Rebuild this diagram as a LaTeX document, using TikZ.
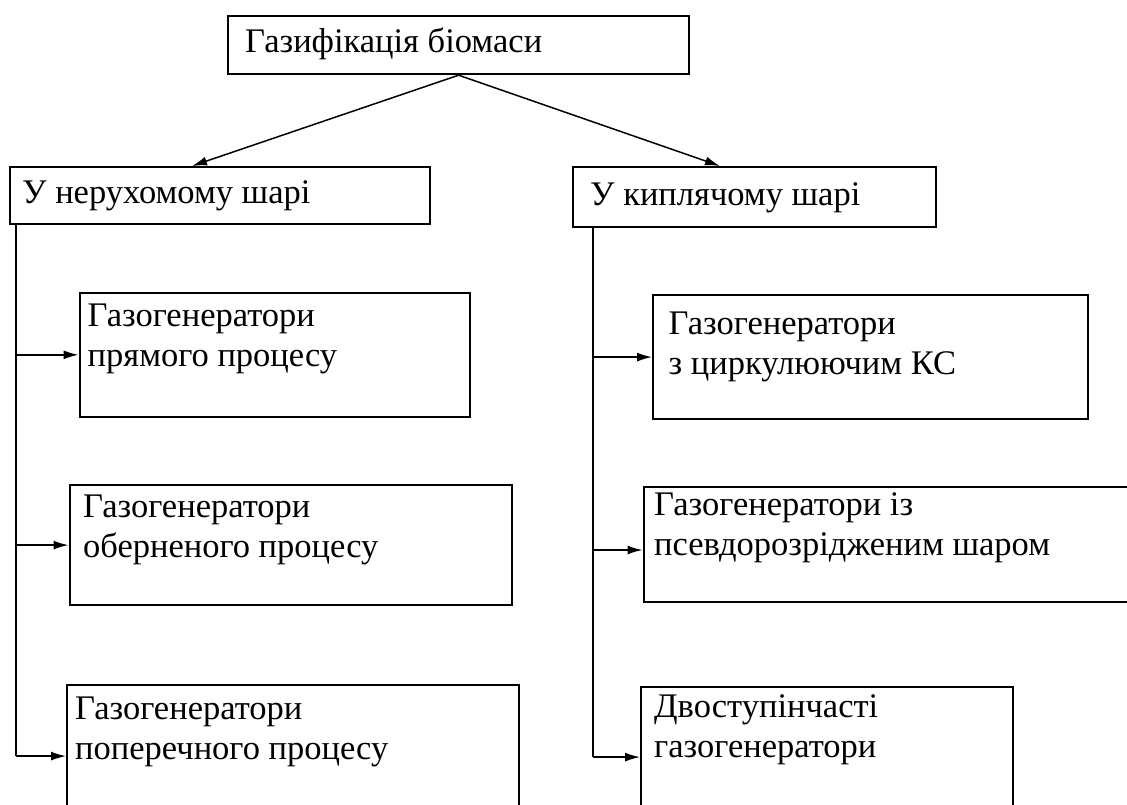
\documentclass[tikz,border=0pt]{standalone}
\usepackage{fontspec}
\setmainfont{Liberation Serif}
\usetikzlibrary{arrows.meta,calc}
\begin{document}
\begin{tikzpicture}[x=1pt,y=-1pt,
  box/.style={draw=black, line width=2.2pt, inner sep=0pt, anchor=north west},
  txt/.style={anchor=base west, inner sep=0pt, align=left, font=\fontsize{34.5}{40}\selectfont},
  conn/.style={draw=black, line width=1.5pt},
  arr/.style={conn, -{Latex[length=15pt,width=9pt]}}]
\useasboundingbox (0,0) rectangle (1127,805);
\clip (0,0) rectangle (1127,805);
% boxes
\node[box, minimum width=461pt, minimum height=58pt] (top) at (227,15) {};
\node[box, minimum width=420pt, minimum height=57pt] (lb) at (9,166) {};
\node[box, minimum width=363pt, minimum height=60pt] (rb) at (572,166) {};
\node[box, minimum width=390.5pt, minimum height=124.5pt] (l1) at (78.5,291.5) {};
\node[box, minimum width=442pt, minimum height=120pt] (l2) at (68.5,484) {};
\node[box, minimum width=452pt, minimum height=142pt] (l3) at (66,684) {};
\node[box, minimum width=435pt, minimum height=124pt] (r1) at (652,294) {};
\node[box, minimum width=500pt, minimum height=115pt] (r2) at (642.5,486) {};
\node[box, minimum width=372pt, minimum height=140pt] (r3) at (640,686) {};
% texts (base = baseline of the last line)
\node[txt] (t0) at (245,53) {Газифікація біомаси};
\node[txt] (tl) at (22,204) {У нерухомому шарі};
\node[txt] (tr) at (590,206) {У киплячому шарі};
\node[txt] (tl1) at (87.5,366) {Газогенератори\\прямого процесу};
\node[txt] (tl2) at (83,557) {Газогенератори\\оберненого процесу};
\node[txt] (tl3) at (75,759) {Газогенератори\\поперечного процесу};
\node[txt] (tr1) at (668.5,374) {Газогенератори\\з циркулюючим КС};
\node[txt] (tr2) at (654,555) {Газогенератори із\\псевдорозрідженим шаром};
\node[txt] (tr3) at (654,757) {Двоступінчасті\\газогенератори};
% connectors
\coordinate (la) at ($(lb.north west)+(183,0)$);
\coordinate (ra) at ($(rb.north west)+(148,0)$);
\draw[arr] (top.south) -- (la);
\draw[arr] (top.south) -- (ra);
\coordinate (lv) at ($(lb.south west)+(7,0)$);
\coordinate (rv) at ($(rb.south west)+(21,0)$);
\coordinate (r2in) at ($(r2.north west)+(0,64)$);
\draw[conn] (lv) -- (lv |- l3.west);
\draw[arr] (lv |- l1.west) -- (l1.west);
\draw[arr] (lv |- l2.west) -- (l2.west);
\draw[arr] (lv |- l3.west) -- (l3.west);
\draw[conn] (rv) -- (rv |- r3.west);
\draw[arr] (rv |- r1.west) -- (r1.west);
\draw[arr] (rv |- r2in) -- (r2in);
\draw[arr] (rv |- r3.west) -- (r3.west);
\end{tikzpicture}
\end{document}
